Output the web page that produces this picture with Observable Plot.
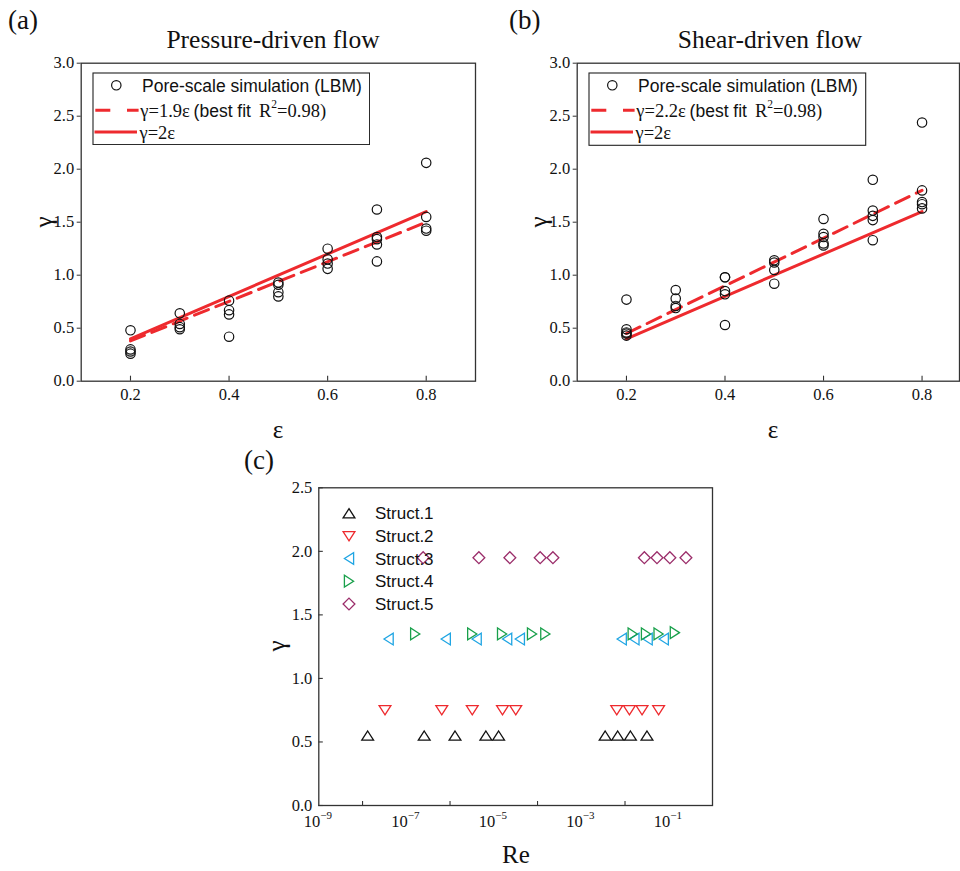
<!DOCTYPE html>
<html><head><meta charset="utf-8">
<script src="https://cdn.jsdelivr.net/npm/d3@7"></script>
<script src="https://cdn.jsdelivr.net/npm/@observablehq/plot@0.6"></script>
<style>
html,body{margin:0;padding:0;background:#fff;overflow:hidden;}
#root{position:relative;width:960px;height:871px;overflow:hidden;font-family:"Liberation Serif","Times New Roman",serif;color:#111;}
.abs{position:absolute;white-space:nowrap;line-height:1;}
#root svg{position:absolute;}
#root svg.plotpanel text{font-family:"Liberation Serif","Times New Roman",serif !important;}
</style></head><body><div id="root"></div>
<script>
// ---------------- DATA ----------------
const epsTicks = [0.2, 0.4, 0.6, 0.8];
const gammaTicksTop = [0, 0.5, 1.0, 1.5, 2.0, 2.5, 3.0];

// (a) Pressure-driven flow
const pressureEps   = [0.2,0.2,0.2,0.2, 0.3,0.3,0.3,0.3, 0.4,0.4,0.4,0.4, 0.5,0.5,0.5,0.5, 0.6,0.6,0.6,0.6, 0.7,0.7,0.7,0.7,0.7, 0.8,0.8,0.8,0.8];
const pressureGamma = [0.48,0.30,0.28,0.26, 0.64,0.54,0.51,0.49, 0.76,0.67,0.63,0.42, 0.93,0.91,0.84,0.80, 1.25,1.15,1.11,1.06, 1.62,1.36,1.34,1.29,1.13, 2.06,1.55,1.44,1.42];
const pressureFitEps = [0.2, 0.8];
const pressureFitGamma = [0.38, 1.50];

// (b) Shear-driven flow
const shearEps   = [0.2,0.2,0.2,0.2,0.2, 0.3,0.3,0.3,0.3, 0.4,0.4,0.4,0.4,0.4, 0.5,0.5,0.5,0.5, 0.6,0.6,0.6,0.6,0.6, 0.7,0.7,0.7,0.7,0.7, 0.8,0.8,0.8,0.8,0.8];
const shearGamma = [0.77,0.49,0.46,0.45,0.43, 0.86,0.78,0.71,0.69, 0.98,0.98,0.85,0.82,0.53, 1.14,1.12,1.05,0.92, 1.53,1.39,1.36,1.30,1.28, 1.90,1.61,1.56,1.52,1.33, 2.44,1.80,1.69,1.67,1.63];
const shearFitEps = [0.2, 0.8];
const shearFitGamma = [0.45, 1.80];

// reference line gamma = 2 eps
const refEps = [0.2, 0.8];
const refGamma = [0.40, 1.60];

// legend labels
const legendCircle = "Pore-scale simulation (LBM)";
const legendRef = "γ=2ε";
const fitCoefA = "γ=1.9ε";
const fitCoefB = "γ=2.2ε";

// (c) gamma vs Re
const reLabelTicks = [1e-9, 1e-7, 1e-5, 1e-3, 1e-1];
const reMinorTicks = [1e-8, 1e-6, 1e-4, 1e-2];
const gammaTicksC = [0, 0.5, 1.0, 1.5, 2.0, 2.5];
const structNames = ["Struct.1", "Struct.2", "Struct.3", "Struct.4", "Struct.5"];
const struct1Re = [1.31e-8, 2.57e-7, 1.30e-6, 6.6e-6, 1.29e-5, 3.52e-3, 6.8e-3, 1.33e-2, 3.18e-2];
const struct1Gamma = [0.55,0.55,0.55,0.55,0.55,0.55,0.55,0.55,0.55];
const struct2Re = [3.26e-8, 6.47e-7, 3.22e-6, 1.58e-5, 3.18e-5, 6.47e-3, 1.26e-2, 2.45e-2, 5.86e-2];
const struct2Gamma = [0.75,0.75,0.75,0.75,0.75,0.75,0.75,0.75,0.75];
const struct3Re = [3.94e-8, 7.98e-7, 4.06e-6, 2.02e-5, 3.94e-5, 8.41e-3, 1.64e-2, 3.29e-2, 7.69e-2];
const struct3Gamma = [1.31,1.31,1.31,1.31,1.31,1.31,1.31,1.31,1.31];
const struct4Re = [1.6e-7, 3.22e-6, 1.55e-5, 7.5e-5, 1.51e-4, 1.5e-2, 3.02e-2, 5.86e-2, 0.138];
const struct4Gamma = [1.35,1.35,1.35,1.35,1.35,1.35,1.35,1.35,1.36];
const struct5Re = [2.43e-7, 4.57e-6, 2.33e-5, 1.15e-4, 2.25e-4, 2.77e-2, 5.38e-2, 0.106, 0.247];
const struct5Gamma = [1.95,1.95,1.95,1.95,1.95,1.95,1.95,1.95,1.95];

// ---------------- STYLE ----------------
const RED = "#ee2a2e";
const SERIF = "Liberation Serif, Times New Roman, serif";
const SANS = "Liberation Sans, Arial, sans-serif";
const root = document.getElementById("root");

function triSym(dir){ return {draw(ctx, size){
  const r = Math.sqrt(size/Math.PI), h = 0.78*r;
  if (dir==="up"){ctx.moveTo(0,-h);ctx.lineTo(r,h);ctx.lineTo(-r,h);}
  else if (dir==="down"){ctx.moveTo(0,h);ctx.lineTo(r,-h);ctx.lineTo(-r,-h);}
  else if (dir==="left"){ctx.moveTo(-h,0);ctx.lineTo(h,-r);ctx.lineTo(h,r);}
  else {ctx.moveTo(h,0);ctx.lineTo(-h,-r);ctx.lineTo(-h,r);}
  ctx.closePath();}};}
const diamondSym = {draw(ctx, size){const r=Math.sqrt(size/Math.PI);
  ctx.moveTo(0,-r);ctx.lineTo(r,0);ctx.lineTo(0,r);ctx.lineTo(-r,0);ctx.closePath();}};

const structStyles = [
  {color:"#111111", symbol: triSym("up")},
  {color:"#ee2a2e", symbol: triSym("down")},
  {color:"#1fa5e3", symbol: triSym("left")},
  {color:"#19a04b", symbol: triSym("right")},
  {color:"#9b2d6a", symbol: diamondSym}
];
const structRe = [struct1Re, struct2Re, struct3Re, struct4Re, struct5Re];
const structGamma = [struct1Gamma, struct2Gamma, struct3Gamma, struct4Gamma, struct5Gamma];

function place(el, left, top){ el.style.left = left+"px"; el.style.top = top+"px"; root.appendChild(el); return el; }
function placePlot(chart, left, top){
  chart.classList.add("plotpanel");
  d3.select(chart).selectAll("text").attr("font-family", SERIF).style("font-family", SERIF);
  place(chart, left, top);
}
function label(text, x, baseline, size, opts={}){
  const d = document.createElement("div");
  d.className = "abs";
  d.textContent = text;
  d.style.fontSize = size+"px";
  d.style.fontFamily = opts.family || SERIF;
  const top = baseline - 0.8375*size;
  if (opts.align === "center") d.style.transform = "translateX(-50%)";
  place(d, x, top);
  return d;
}
function rotLabel(text, cx, cy, size){
  const d = document.createElement("div");
  d.className = "abs";
  d.textContent = text;
  d.style.fontSize = size+"px";
  d.style.fontFamily = SERIF;
  d.style.transform = "translate(-50%,-50%) rotate(-90deg)";
  place(d, cx, cy);
}

// ---------------- PANELS (a), (b) ----------------
function epsPanel({left, width, marginLeft, marginRight, xDomain, eps, gamma, fitEps, fitGamma}){
  const pts = eps.map((e,i)=>({e, g: gamma[i]}));
  const fit = fitEps.map((e,i)=>({e, g: fitGamma[i]}));
  const ref = refEps.map((e,i)=>({e, g: refGamma[i]}));
  const height = 450, marginTop = 62.7, marginBottom = 69.3;
  const innerH = height - marginTop - marginBottom;
  const chart = Plot.plot({
    width, height, marginLeft, marginRight, marginTop, marginBottom,
    style: {fontFamily: SERIF, fontSize: "16.5px", color: "#111", background: "transparent"},
    x: {domain: xDomain, label: null},
    y: {domain: [0, 3], label: null},
    marks: [
      Plot.line(fit, {x: "e", y: "g", stroke: RED, strokeWidth: 3, strokeDasharray: "15,8"}),
      Plot.line(ref, {x: "e", y: "g", stroke: RED, strokeWidth: 3}),
      Plot.dot(pts, {x: "e", y: "g", r: 4.7, stroke: "#111", fill: "none", strokeWidth: 1.2}),
      Plot.axisY(gammaTicksTop, {tickSize: 4, tickPadding: 3, tickFormat: d3.format(".1f"), label: null, fontSize: 16.5, stroke: "#333"}),
      Plot.axisX(epsTicks, {tickSize: 0, tickPadding: 7.5, tickFormat: d3.format(".1f"), label: null, fontSize: 16.5}),
      Plot.ruleX(epsTicks, {x: d=>d, insetTop: innerH - 5, stroke: "#333", strokeWidth: 1.1}),
      Plot.frame({stroke: "#333", strokeWidth: 1.3})
    ]
  });
  placePlot(chart, left, 0);
}

epsPanel({left: 0, width: 480, marginLeft: 80.7, marginRight: 5, xDomain: [0.1, 0.9],
  eps: pressureEps, gamma: pressureGamma, fitEps: pressureFitEps, fitGamma: pressureFitGamma});
epsPanel({left: 500, width: 460, marginLeft: 76.7, marginRight: 1, xDomain: [0.1, 0.876],
  eps: shearEps, gamma: shearGamma, fitEps: shearFitEps, fitGamma: shearFitGamma});

// legends for (a) and (b)
function epsLegend(left, top, w, h, fitText){
  const svg = d3.create("svg").attr("width", w+2).attr("height", h+2)
    .style("left", (left-1)+"px").style("top", (top-1)+"px");
  const g = svg.append("g").attr("transform", "translate(1,1)");
  g.append("rect").attr("width", w).attr("height", h).attr("fill", "#fff").attr("stroke", "#222").attr("stroke-width", 1.1);
  g.append("circle").attr("cx", 23.3).attr("cy", 12.3).attr("r", 4.7).attr("fill", "none").attr("stroke", "#111").attr("stroke-width", 1.2);
  g.append("text").attr("x", 49).attr("y", 12.8).attr("dominant-baseline", "central")
    .attr("font-family", SANS).attr("font-size", 17.5).attr("fill", "#111").text(legendCircle);
  g.append("line").attr("x1", 2.3).attr("x2", 45.6).attr("y1", 37.3).attr("y2", 37.3)
    .attr("stroke", RED).attr("stroke-width", 3).attr("stroke-dasharray", "15,16.7");
  const t = g.append("text").attr("y", 37.8).attr("dominant-baseline", "central").attr("font-size", 17.5).attr("fill", "#111");
  t.append("tspan").attr("x", 47.3).attr("font-family", SERIF).attr("font-size", 18.5).text(fitText);
  t.append("tspan").attr("x", 100.6).attr("font-family", SANS).text("(best fit");
  t.append("tspan").attr("x", 166).attr("font-family", SERIF).attr("font-size", 18.5).text("R");
  t.append("tspan").attr("font-family", SERIF).attr("font-size", 11.5).attr("dy", -6.5).text("2");
  t.append("tspan").attr("font-family", SERIF).attr("font-size", 18.5).attr("dy", 6.5).text("=0.98)");
  g.append("line").attr("x1", 1.5).attr("x2", 44).attr("y1", 59).attr("y2", 59)
    .attr("stroke", RED).attr("stroke-width", 3);
  g.append("text").attr("x", 46.5).attr("y", 59.5).attr("dominant-baseline", "central")
    .attr("font-family", SERIF).attr("font-size", 18.5).attr("fill", "#111").text(legendRef);
  root.appendChild(svg.node());
}
epsLegend(92.7, 72.7, 276.6, 71.6, fitCoefA);
epsLegend(589.3, 72.7, 276.7, 72.3, fitCoefB);

// ---------------- PANEL (c) ----------------
{
  const width = 480, height = 400, marginLeft = 78.3, marginRight = 8, marginTop = 17.3, marginBottom = 65;
  const innerW = width - marginLeft - marginRight;
  const innerH = height - marginTop - marginBottom;
  const marks = [];
  structRe.forEach((res, k) => {
    const data = res.map((re, i) => ({re, g: structGamma[k][i]}));
    marks.push(Plot.dot(data, {x: "re", y: "g", r: 5.9, symbol: structStyles[k].symbol,
      stroke: structStyles[k].color, fill: "none", strokeWidth: 1.3}));
  });
  const supMinus = e => (e < 0 ? "\u2212" : "") + Math.abs(e);
  const chart = Plot.plot({
    width, height, marginLeft, marginRight, marginTop, marginBottom,
    style: {fontFamily: SERIF, fontSize: "16.5px", color: "#111", background: "transparent"},
    x: {type: "log", domain: [1e-9, 1], axis: null, label: null},
    y: {domain: [0, 2.5], label: null},
    marks: [
      Plot.axisY(gammaTicksC, {tickSize: 0, tickPadding: 6.5, tickFormat: d3.format(".1f"), label: null, fontSize: 16.5}),
      Plot.ruleY(gammaTicksC, {y: d=>d, insetRight: innerW - 4.5, stroke: "#333", strokeWidth: 1.1}),
      Plot.ruleX(reMinorTicks, {x: d=>d, insetTop: innerH - 4, stroke: "#333", strokeWidth: 1.1}),
      Plot.text(reLabelTicks, {x: d=>d, frameAnchor: "bottom", text: () => "10", dx: 1.5, dy: 21, textAnchor: "end", fontSize: 16.5}),
      Plot.text(reLabelTicks, {x: d=>d, frameAnchor: "bottom", text: d => supMinus(Math.round(Math.log10(d))), dx: 1.5, dy: 13, textAnchor: "start", fontSize: 11}),
      ...marks,
      Plot.frame({stroke: "#333", strokeWidth: 1.3})
    ]
  });
  placePlot(chart, 240, 470);

  // legend (c)
  const svg = d3.create("svg").attr("width", 120).attr("height", 115).style("left", "335px").style("top", "500px");
  const rows = [13.3, 36.2, 58.5, 81.2, 104];
  structNames.forEach((name, k) => {
    const r = 5.9;
    svg.append("path").attr("transform", `translate(14,${rows[k]})`)
      .attr("d", d3.symbol().type(structStyles[k].symbol).size(r*r*Math.PI)())
      .attr("fill", "none").attr("stroke", structStyles[k].color).attr("stroke-width", 1.3);
    svg.append("text").attr("x", 40).attr("y", rows[k] + 0.5).attr("dominant-baseline", "central")
      .attr("font-family", SANS).attr("font-size", 17).attr("fill", "#111").text(name);
  });
  root.appendChild(svg.node());
}

// ---------------- TEXT LABELS ----------------
label("(a)", 8, 30, 27);
label("(b)", 509, 30, 27);
label("(c)", 244, 470, 27);
label("Pressure-driven flow", 273, 48.3, 25.5, {align: "center"});
label("Shear-driven flow", 770, 48.3, 25.5, {align: "center"});
label("ε", 278, 438, 25, {align: "center"});
label("ε", 773, 438, 25, {align: "center"});
label("Re", 516, 863, 25, {align: "center"});
rotLabel("γ", 43, 221.5, 25);
rotLabel("γ", 538, 221.5, 25);
rotLabel("γ", 276, 646, 25);
</script></body></html>
